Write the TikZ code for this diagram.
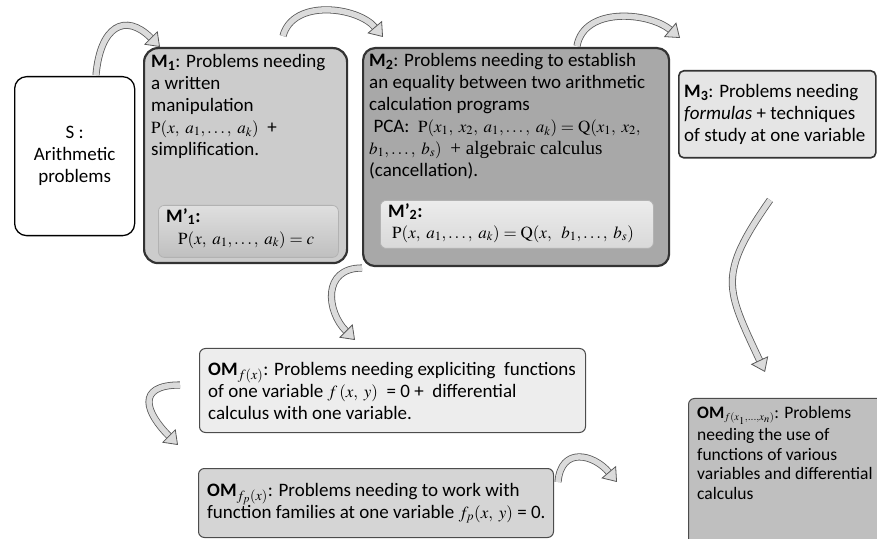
\documentclass[tikz,border=0pt]{standalone}
\usepackage{mathptmx}
\usepackage[no-math]{fontspec}
\setmainfont{Carlito}
\newfontfamily\tms{Liberation Serif}
\newcommand\fml[1]{{\fontsize{17}{22}\selectfont$#1$}}
\usetikzlibrary{arrows.meta}

\begin{document}
\begin{tikzpicture}[x=1pt, y=1pt,
    every node/.style={font=\fontsize{19}{22}\selectfont},
    box/.style={draw, rounded corners=6pt, anchor=north west, inner sep=0pt},
    txt/.style={anchor=north west, inner sep=0pt, align=left},
    blockarrow/.style={draw=gray!70!black, line width=0.8pt, double=gray!28, double distance=5.5pt,
      -{Triangle[width=19pt, length=13pt, line width=0.8pt, fill=gray!28]}}]
    \useasboundingbox (0,0) rectangle (877,538);
    \clip (0,0) rectangle (877,538);
    \node[box, rounded corners=12pt, line width=1.3pt, fill=white, minimum width=120pt,
      minimum height=159pt, align=center] (S) at (14,462) {S :\\Arithmetic\\problems};
    \node[box, rounded corners=14pt, line width=2.2pt, draw=black!80, fill=gray!40,
      minimum width=203pt, minimum height=215pt] (M1) at (143,491) {};
    \node[txt] (M1t) at (151,484)
      {\textbf{M\textsubscript{1}}: Problems needing\\a written\\manipulation\\
       \fml{\mathrm{P}(x,\ a_1,\ldots,\ a_k)}\ \ +\\simplification.};
    \node[box, draw=gray!60, line width=0.8pt, top color=gray!25, bottom color=gray!50,
      minimum width=180pt, minimum height=52pt] (M1p) at (158,333) {};
    \node[txt] (M1pt) at (166,330)
      {\textbf{M'\textsubscript{1}:}\\\hspace*{12pt}\fml{\mathrm{P}(x,\ a_1,\ldots,\ a_k) = c}};
    \node[box, rounded corners=12pt, line width=2.2pt, draw=black!80, fill=gray!68,
      minimum width=306pt, minimum height=218pt] (M2) at (362,491) {};
    \node[txt] (M2t) at (369,485)
      {\textbf{M\textsubscript{2}}: Problems needing to establish\\
       an equality between two arithmetic\\
       calculation programs\\
       \ PCA:\ \ \fml{\mathrm{P}(x_1,\ x_2,\ a_1,\ldots,\ a_k) = \mathrm{Q}(x_1,\ x_2,}\\
       \fml{b_1,\ldots,\ b_s)}\ \ {\tms + algebraic calculus}\\
       (cancellation).};
    \node[box, draw=gray!60, line width=0.8pt, top color=gray!15, bottom color=gray!30,
      minimum width=273pt, minimum height=48pt] (M2p) at (380,338) {};
    \node[txt, font=\fontsize{19}{21}\selectfont] (M2pt) at (388,335)
      {\textbf{M'\textsubscript{2}:}\\\hspace*{4pt}\fml{\mathrm{P}(x,\ a_1,\ldots,\ a_k) = \mathrm{Q}(x,\ \ b_1,\ldots,\ b_s)}};
    \node[box, rounded corners=5pt, line width=1.6pt, draw=black!80, fill=gray!20,
      minimum width=197pt, minimum height=87pt] (M3) at (678,468) {};
    \node[txt, anchor=west] (M3t) at ([xshift=6pt]M3.west)
      {\textbf{M\textsubscript{3}}: Problems needing\\\textit{formulas} + techniques\\of study at one variable};
    \node[box, line width=1pt, draw=gray!60!black, fill=gray!14, minimum width=386pt,
      minimum height=84pt] (OMa) at (199,190) {};
    \node[txt, anchor=west] (OMat) at ([xshift=9pt]OMa.west)
      {\textbf{OM}$_{f(x)}$: Problems needing expliciting\ \ functions\\
       of one variable \fml{f\,(x,\ y)}\ \ = 0 +\ \ differential\\calculus with one variable.};
    \node[box, line width=1pt, draw=gray!60!black, fill=gray!33, minimum width=355pt,
      minimum height=69pt] (OMb) at (198,70) {};
    \node[txt, anchor=west] (OMbt) at ([xshift=9pt]OMb.west)
      {\textbf{OM}$_{f_p(x)}$: Problems needing to work with\\
       function families at one variable \fml{f_p(x,\ y)} = 0.};
    \node[box, line width=1pt, draw=gray!60!black, fill=gray!50, minimum width=200pt,
      minimum height=150pt] (OMc) at (688,140) {};
    \node[txt, font=\fontsize{17.5}{19.5}\selectfont] (OMct) at (697,132)
      {\textbf{OM}$_{\scriptscriptstyle f(x_1,\ldots,x_n)}$: Problems\\[3pt]needing the use of\\functions of various\\
       variables and differential\\calculus};
    \coordinate (a1s) at (96,463);
    \coordinate (a1e) at (160,491);
    \coordinate (a2s) at (283,502);
    \coordinate (a2e) at (383,501);
    \coordinate (a3s) at (577,492);
    \coordinate (a3e) at (680,500);
    \coordinate (a4s) at (770,338);
    \coordinate (a4e) at (765,166);
    \coordinate (a5s) at (362,270);
    \coordinate (a5e) at (355,198);
    \coordinate (a6s) at (180,153);
    \coordinate (a6e) at (178,93);
    \coordinate (a7s) at (558,56);
    \coordinate (a7e) at (617,56);
    \draw[blockarrow] (a1s) to[out=85, in=135, looseness=1.8] (a1e);
    \draw[blockarrow] (a2s) to[out=75, in=130] (a2e);
    \draw[blockarrow] (a3s) to[out=80, in=140] (a3e);
    \draw[blockarrow] (a4s) to[out=235, in=115, looseness=1.37] (a4e);
    \draw[blockarrow] (a5s) to[out=180, in=135, looseness=1.42] (a5e);
    \draw[blockarrow] (a6s) to[out=180, in=135, looseness=1.92] (a6e);
    \draw[blockarrow] (a7s) to[out=85, in=130, looseness=1.57] (a7e);
\end{tikzpicture}
\end{document}
